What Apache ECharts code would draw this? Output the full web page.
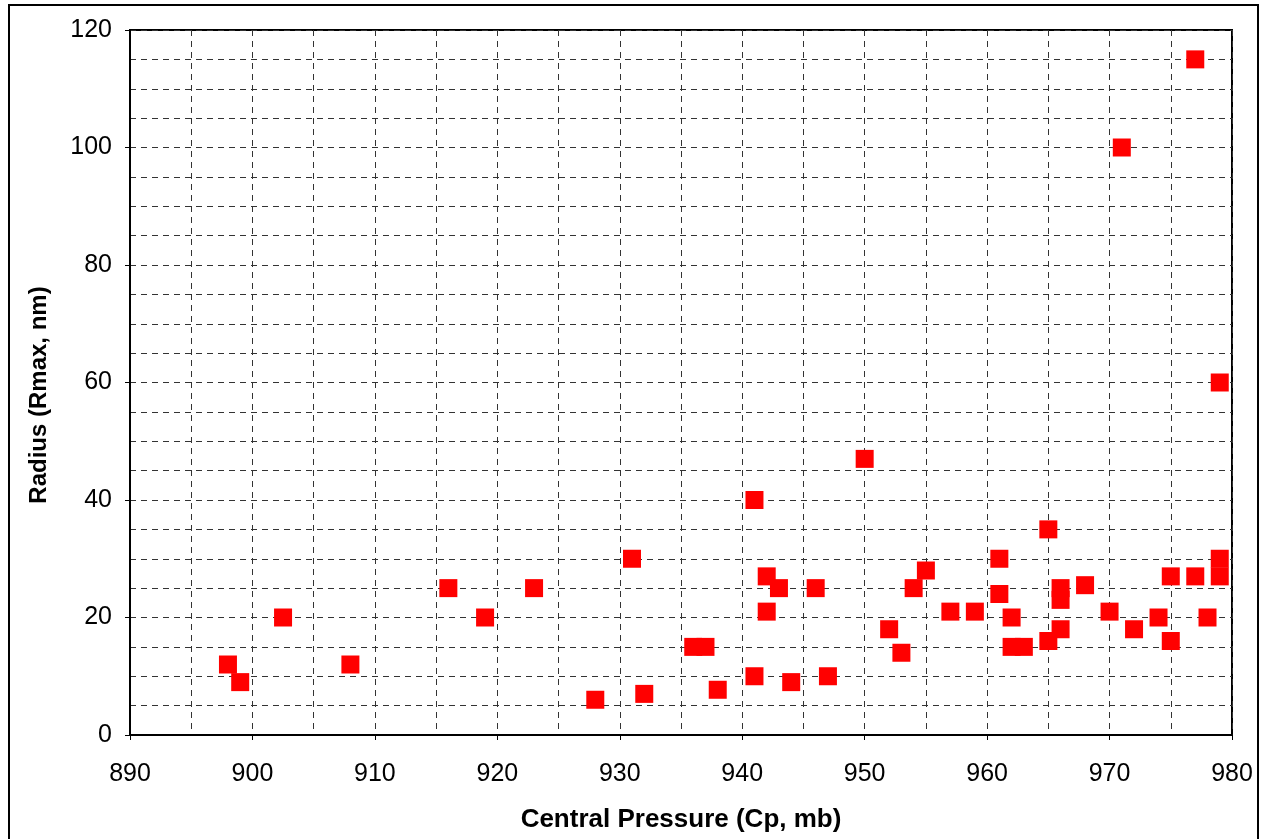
<!DOCTYPE html>
<html>
<head>
<meta charset="utf-8">
<title>Radius vs Central Pressure</title>
<script src="https://cdn.jsdelivr.net/npm/echarts@6/dist/echarts.min.js"></script>
<style>
  html, body { margin: 0; padding: 0; background: #fff; }
  #chart { width: 1262px; height: 839px; }
</style>
</head>
<body>
<div id="chart"></div>
<script>
// Central pressure (mb) of each storm
const pressure = [
  898, 899, 902.5, 908, 916, 919, 923, 928, 931, 932,
  936, 937, 938, 941, 941, 942, 942, 943, 944, 946,
  947, 950, 952, 953, 954, 955, 957, 959, 961, 961,
  962, 962, 963, 965, 965, 966, 966, 966, 968, 970,
  971, 972, 974, 975, 975, 977, 977, 978, 979, 979,
  979
];
// Radius of maximum winds (nm) for the same storms
const radius = [
  12, 9, 20, 12, 25, 20, 25, 6, 30, 7,
  15, 15, 7.7, 40, 10, 27, 21, 25, 9, 25,
  10, 47, 18, 14, 25, 28, 21, 21, 30, 24,
  20, 15, 15, 35, 16, 25, 23, 18, 25.5, 21,
  100, 18, 20, 27, 16, 115, 27, 20, 60, 30,
  27
];
const xTitle = 'Central Pressure (Cp, mb)';
const yTitle = 'Radius (Rmax, nm)';

const points = pressure.map((p, i) => [p, radius[i]]);

const font = 'Liberation Sans, Arial, sans-serif';
const gridDash = { color: '#333', width: 1, type: [6, 5] };

const chart = echarts.init(document.getElementById('chart'), null, { renderer: 'canvas' });
chart.setOption({
  animation: false,
  backgroundColor: '#fff',
  grid: {
    left: 130, right: 30, top: 30, bottom: 104,
    show: true, borderColor: '#000', borderWidth: 2, backgroundColor: 'transparent'
  },
  graphic: [{
    type: 'rect',
    shape: { x: 9, y: 5, width: 1249, height: 860 },
    style: { fill: 'none', stroke: '#000', lineWidth: 2 },
    silent: true
  }, {
    // vertical axis title, drawn rotated beside the value labels
    type: 'text',
    x: 39, y: 395,
    rotation: Math.PI / 2,
    style: {
      text: yTitle, font: 'bold 24px ' + font, fill: '#000',
      align: 'center', verticalAlign: 'middle'
    },
    silent: true
  }],
  xAxis: {
    type: 'value', min: 890, max: 980, interval: 10,
    name: xTitle, nameLocation: 'middle', nameGap: 72,
    nameTextStyle: { fontFamily: font, fontWeight: 'bold', fontSize: 26, color: '#000' },
    axisLine: { show: true, onZero: false, lineStyle: { color: '#000', width: 2 } },
    axisTick: { show: true, length: 5, lineStyle: { color: '#000' } },
    axisLabel: { fontFamily: font, fontSize: 25, color: '#000', margin: 27 },
    splitLine: { show: true, lineStyle: gridDash },
    minorTick: { show: false, splitNumber: 2 },
    minorSplitLine: { show: true, lineStyle: gridDash }
  },
  yAxis: {
    type: 'value', min: 0, max: 120, interval: 20,
    axisLine: { show: true, lineStyle: { color: '#000', width: 2 } },
    axisTick: { show: true, length: 5, lineStyle: { color: '#000' } },
    axisLabel: { fontFamily: font, fontSize: 25, color: '#000', margin: 18 },
    splitLine: { show: true, lineStyle: gridDash },
    minorTick: { show: false, splitNumber: 4 },
    minorSplitLine: { show: true, lineStyle: gridDash }
  },
  series: [{
    type: 'scatter',
    data: points,
    symbol: 'rect',
    symbolSize: 18,
    itemStyle: { color: '#ff0000', opacity: 1 },
    clip: false
  }]
});
</script>
</body>
</html>
